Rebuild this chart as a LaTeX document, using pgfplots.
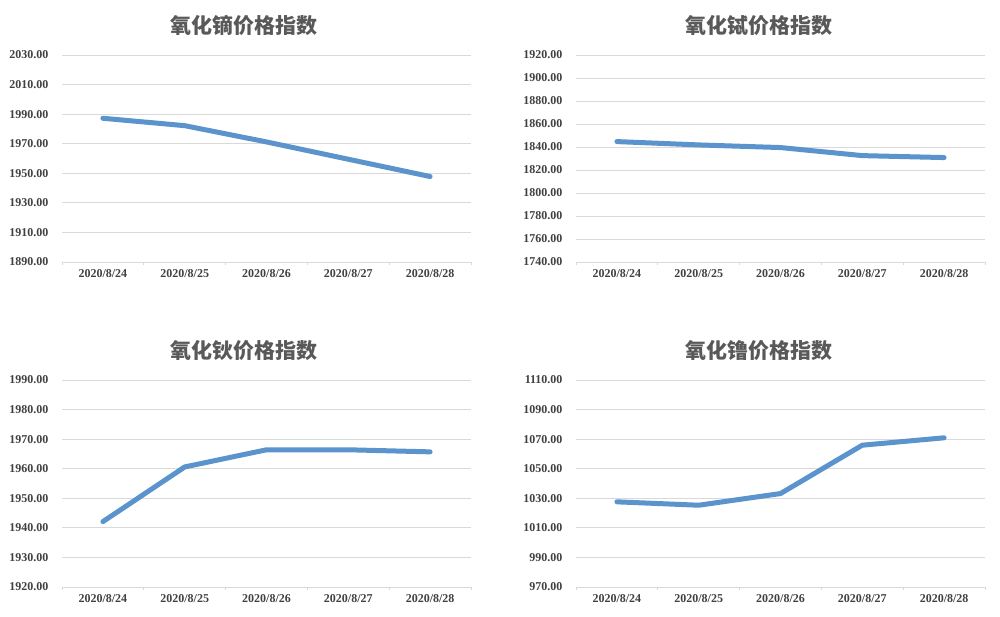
\documentclass[border=0pt]{standalone}
\usepackage{pgfplots}
\pgfplotsset{compat=1.18}
\usepackage{fontspec}
\setmainfont{Liberation Serif}
\newfontfamily\cjk{Noto Sans CJK SC}
\definecolor{lineblue}{HTML}{5B93CC}
\definecolor{titlegray}{HTML}{595959}
\definecolor{labgray}{HTML}{404040}
\definecolor{gridgray}{HTML}{D9D9D9}
\pgfplotsset{
  panel/.style={
    scale only axis, width=409pt, height=207pt,
    anchor=south west,
    xmin=-0.5, xmax=4.5,
    xtick={0,1,2,3,4},
    xticklabels={2020/8/24,2020/8/25,2020/8/26,2020/8/27,2020/8/28},
    minor xtick={-0.5,0.5,1.5,2.5,3.5,4.5},
    axis x line*=bottom,
    axis y line*=left,
    x axis line style={draw=gridgray, line width=0.8pt, -},
    y axis line style={draw=none},
    ymajorgrids, grid style={gridgray, line width=0.8pt},
    major tick length=0pt,
    minor tick length=3pt,
    xminorgrids=false,
    minor x tick style={gridgray, line width=0.8pt, yshift=-3pt},
    tick label style={font=\fontsize{12}{13}\selectfont\bfseries, text=labgray},
    yticklabel={\pgfmathprintnumber[fixed, fixed zerofill, precision=2, 1000 sep={}]{\tick}},
    /pgf/number format/assume math mode=true,
    xticklabel style={yshift=-4pt},
    yticklabel style={xshift=-10pt},
    title style={font=\cjk\fontsize{21}{24}\selectfont\bfseries, text=titlegray, yshift=10pt, xshift=-22pt},
    clip=false,
  },
  bline/.style={lineblue, line width=5pt, line join=round, line cap=round, no markers},
}
\begin{document}
\begin{tikzpicture}[x=1pt,y=1pt]
\path[use as bounding box] (0,0) rectangle (1000,617);
\begin{axis}[panel, at={(62pt,355pt)}, ymin=1890, ymax=2030, ytick={1890,1910,...,2030},
  title={氧化镝价格指数}]
\addplot[bline] coordinates {(0,1987.2) (1,1982.2) (2,1971.2) (3,1959.5) (4,1947.8)};
\end{axis}
\begin{axis}[panel, at={(576pt,355pt)}, ymin=1740, ymax=1920, ytick={1740,1760,...,1920},
  title={氧化铽价格指数}]
\addplot[bline] coordinates {(0,1844.7) (1,1841.8) (2,1839.5) (3,1832.5) (4,1830.8)};
\end{axis}
\begin{axis}[panel, at={(62pt,30pt)}, ymin=1920, ymax=1990, ytick={1920,1930,...,1990},
  title={氧化钬价格指数}]
\addplot[bline] coordinates {(0,1942.1) (1,1960.6) (2,1966.4) (3,1966.4) (4,1965.7)};
\end{axis}
\begin{axis}[panel, at={(576pt,30pt)}, ymin=970, ymax=1110, ytick={970,990,...,1110},
  title={氧化镥价格指数}]
\addplot[bline] coordinates {(0,1027.6) (1,1025.3) (2,1033.2) (3,1065.9) (4,1070.9)};
\end{axis}
\end{tikzpicture}
\end{document}
